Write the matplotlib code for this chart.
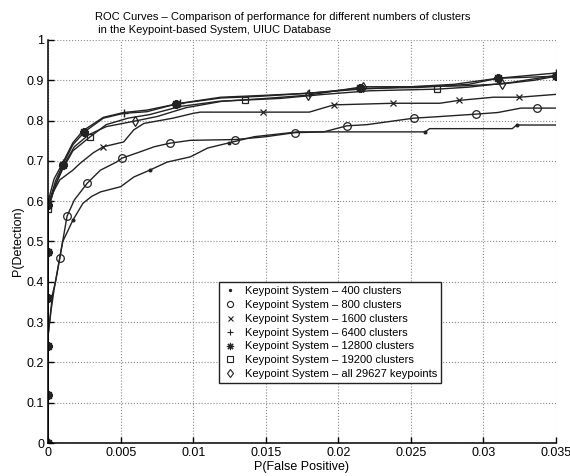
import matplotlib
matplotlib.use('Agg')
import matplotlib.pyplot as plt
from matplotlib.lines import Line2D

plt.rcParams['font.family'] = ['Liberation Sans', 'DejaVu Sans']

OUT = 'out.png'

# --- data --------------------------------------------------------------
x_400 = [0, 0, 0.0002, 0.0004, 0.0007, 0.001, 0.0014, 0.0017, 0.0024, 0.0030,
         0.0036, 0.005, 0.0059, 0.007, 0.0082, 0.0098, 0.011, 0.0125, 0.0142,
         0.0172, 0.0229, 0.026, 0.0263, 0.032, 0.0323, 0.035]
y_400 = [0, 0.27, 0.33, 0.38, 0.44, 0.50, 0.53, 0.553, 0.595, 0.612,
         0.623, 0.636, 0.66, 0.677, 0.697, 0.71, 0.732, 0.745, 0.76,
         0.772, 0.772, 0.772, 0.78, 0.78, 0.789, 0.789]
m_400 = [7, 13, 17, 21, 24]

x_800 = [0, 0, 0.0003, 0.0005, 0.0008, 0.0013, 0.0018, 0.0027, 0.0036, 0.0047,
         0.0051, 0.0063, 0.0073, 0.0084, 0.0098, 0.0129, 0.015, 0.017, 0.019,
         0.0206, 0.022, 0.0252, 0.027, 0.0295, 0.031, 0.0326, 0.0337, 0.035]
y_800 = [0, 0.27, 0.37, 0.40, 0.46, 0.563, 0.603, 0.645, 0.677, 0.697,
         0.707, 0.722, 0.735, 0.744, 0.751, 0.753, 0.76, 0.77, 0.772,
         0.787, 0.79, 0.806, 0.81, 0.816, 0.82, 0.831, 0.831, 0.831]
m_800 = [4, 5, 7, 10, 13, 15, 17, 19, 21, 23, 26]

x_1600 = [0, 0, 0.0003, 0.0008, 0.0017, 0.0022, 0.0031, 0.0038, 0.0052, 0.0059,
          0.0066, 0.0086, 0.01, 0.0105, 0.0148, 0.018, 0.0197, 0.0238, 0.027,
          0.0283, 0.0307, 0.0325, 0.035]
y_1600 = [0, 0.59, 0.62, 0.653, 0.677, 0.694, 0.72, 0.735, 0.747, 0.777,
          0.793, 0.806, 0.818, 0.821, 0.821, 0.821, 0.839, 0.843, 0.843,
          0.85, 0.858, 0.858, 0.865]
m_1600 = [7, 14, 16, 17, 19, 21]

x_6400 = [0, 0, 0.0004, 0.001, 0.0017, 0.0024, 0.0038, 0.0052, 0.0068, 0.0091,
          0.0119, 0.0145, 0.018, 0.0215, 0.025, 0.028, 0.031, 0.035]
y_6400 = [0, 0.60, 0.655, 0.695, 0.745, 0.775, 0.808, 0.82, 0.826, 0.843,
          0.858, 0.862, 0.868, 0.878, 0.884, 0.89, 0.905, 0.918]
m_6400 = [1, 3, 7, 9, 12, 17]

x_12800 = [0, 0, 0, 0, 0, 0, 0.0005, 0.001, 0.0017, 0.0025, 0.0038, 0.0052,
           0.0068, 0.0088, 0.0119, 0.0145, 0.018, 0.0215, 0.0255, 0.029,
           0.031, 0.035]
y_12800 = [0, 0.12, 0.24, 0.36, 0.475, 0.59, 0.65, 0.69, 0.74, 0.772, 0.806,
           0.818, 0.822, 0.841, 0.856, 0.86, 0.868, 0.88, 0.882, 0.89,
           0.905, 0.91]
m_12800 = [0, 1, 2, 3, 4, 5, 7, 9, 13, 17, 20, 21]

x_19200 = [0, 0, 0.0005, 0.001, 0.0017, 0.0029, 0.004, 0.0055, 0.007, 0.0091,
           0.0118, 0.0136, 0.016, 0.019, 0.0222, 0.0268, 0.029, 0.032, 0.035]
y_19200 = [0, 0.58, 0.64, 0.68, 0.725, 0.76, 0.79, 0.806, 0.815, 0.835,
           0.848, 0.851, 0.855, 0.865, 0.874, 0.878, 0.883, 0.895, 0.912]
m_19200 = [1, 5, 11, 15]

x_all = [0, 0, 0.0005, 0.001, 0.0018, 0.0028, 0.004, 0.006, 0.0075, 0.0095,
         0.012, 0.015, 0.0179, 0.0217, 0.025, 0.0285, 0.0313, 0.0335, 0.035]
y_all = [0, 0.59, 0.64, 0.685, 0.735, 0.765, 0.785, 0.799, 0.81, 0.832,
         0.848, 0.855, 0.863, 0.884, 0.884, 0.886, 0.891, 0.90, 0.91]
m_all = [7, 12, 13, 16]

labels = ['Keypoint System \u2013 400 clusters',
          'Keypoint System \u2013 800 clusters',
          'Keypoint System \u2013 1600 clusters',
          'Keypoint System \u2013 6400 clusters',
          'Keypoint System \u2013 12800 clusters',
          'Keypoint System \u2013 19200 clusters',
          'Keypoint System \u2013 all 29627 keypoints']

# (x, y, marker indices, marker, size, edge width)
series = [(x_400, y_400, m_400, '.', 4, 0.9),
          (x_800, y_800, m_800, 'o', 5.5, 0.9),
          (x_1600, y_1600, m_1600, 'x', 4.5, 0.9),
          (x_6400, y_6400, m_6400, '+', 6, 1.0),
          (x_12800, y_12800, m_12800, (8, 2, 0), 6.5, 1.6),
          (x_19200, y_19200, m_19200, 's', 5, 0.9),
          (x_all, y_all, m_all, 'd', 5.5, 0.9)]

INK = '#222222'

fig = plt.figure(figsize=(5.7, 4.76), dpi=100)
ax = fig.add_axes([0.0846, 0.0693, 0.8904, 0.8467])

for xs, ys, me, mk, ms, mew in series:
    ax.plot(xs, ys, color=INK, lw=1.0, marker=mk, markevery=me,
            markersize=ms, markerfacecolor='none' if mk in ('o', 's', 'd') else INK,
            markeredgecolor=INK, markeredgewidth=mew)

ax.set_xlim(0, 0.035)
ax.set_ylim(0, 1)
ax.set_xticks([0, 0.005, 0.01, 0.015, 0.02, 0.025, 0.03, 0.035])
ax.set_xticklabels(['0', '0.005', '0.01', '0.015', '0.02', '0.025', '0.03', '0.035'])
ax.set_yticks([i / 10 for i in range(11)])
ax.set_yticklabels(['0', '0.1', '0.2', '0.3', '0.4', '0.5', '0.6', '0.7', '0.8', '0.9', '1'])
ax.tick_params(direction='in', length=4, labelsize=9, pad=3, width=1.0)
ax.grid(True, linestyle=':', color='#8a8a8a', lw=0.8)
ax.spines['top'].set_visible(False)
ax.spines['right'].set_visible(False)
ax.spines['left'].set_linewidth(1.1)
ax.spines['bottom'].set_linewidth(1.1)
ax.set_axisbelow(True)

ax.set_xlabel('P(False Positive)', fontsize=9, labelpad=1)
ax.set_ylabel('P(Detection)', fontsize=9, labelpad=2)

fig.text(0.167, 0.975, 'ROC Curves \u2013 Comparison of performance for different numbers of clusters\n'
         ' in the Keypoint-based System, UIUC Database',
         fontsize=8, ha='left', va='top', linespacing=1.35)

handles = []
for xs, ys, me, mk, ms, mew in series:
    handles.append(Line2D([], [], linestyle='none', marker=mk,
                          markersize=ms * 0.8, color=INK,
                          markerfacecolor='none' if mk in ('o', 's', 'd') else INK,
                          markeredgewidth=0.8))
leg = ax.legend(handles, labels, loc='upper left', bbox_to_anchor=(0.3366, 0.3995),
                borderaxespad=0, fancybox=False, framealpha=1, edgecolor=INK,
                fontsize=8, handlelength=1.2, handletextpad=0.8,
                labelspacing=0.35, borderpad=0.35)
leg.get_frame().set_linewidth(1.0)

plt.savefig(OUT, dpi=100, facecolor='white')
